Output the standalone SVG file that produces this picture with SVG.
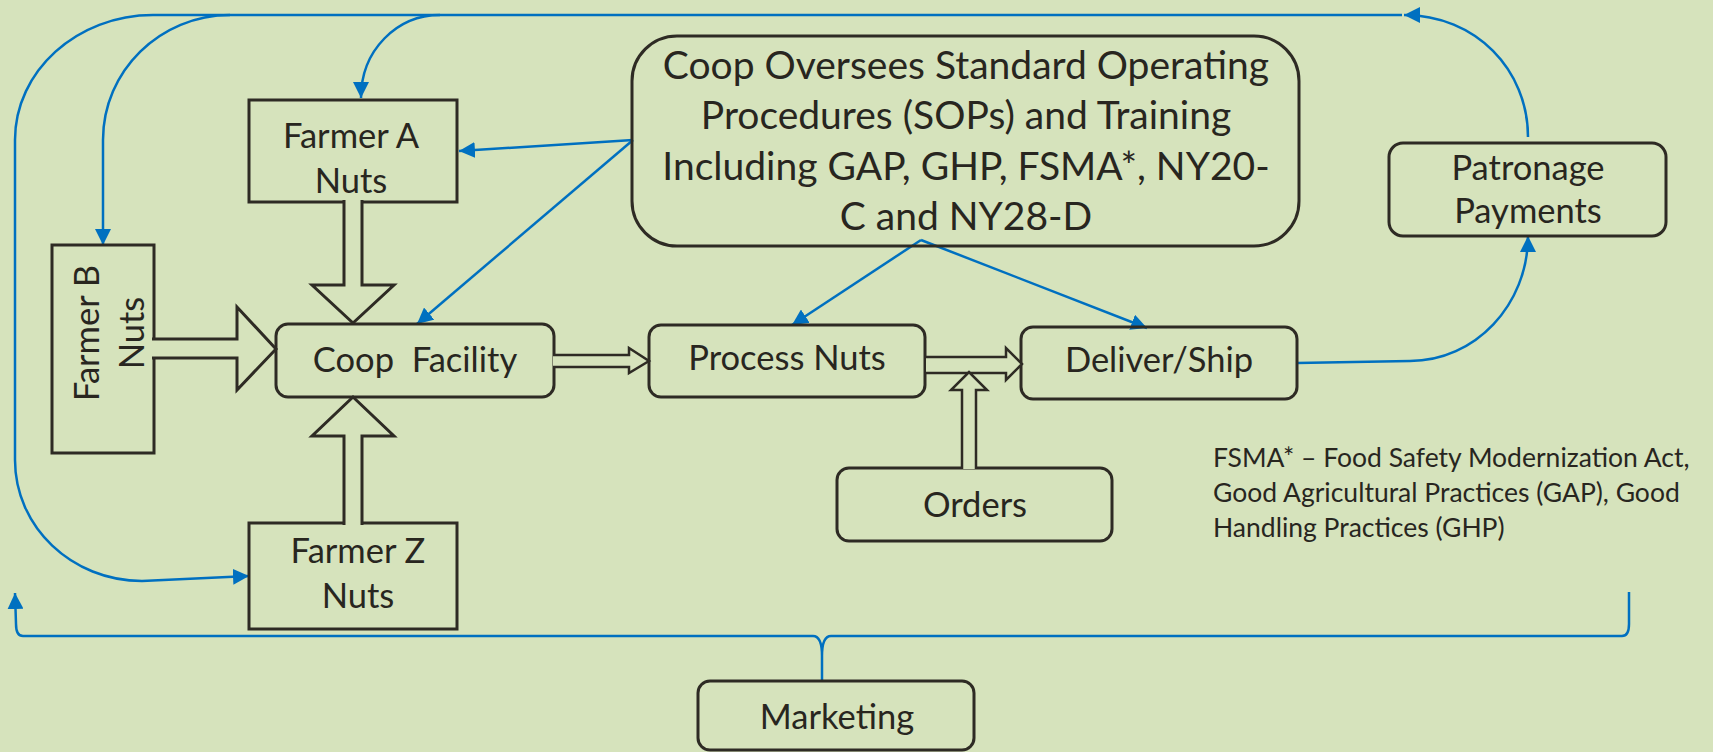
<svg xmlns="http://www.w3.org/2000/svg" width="1713" height="752" viewBox="0 0 1713 752">
<style>
.box{fill:none;stroke:#2e2b24;stroke-width:3}
.blk{fill:#d6e3bc;stroke:#2e2b24;stroke-width:3;stroke-linejoin:miter}
.thin{fill:#d6e3bc;stroke:#2e2b24;stroke-width:2.5;stroke-linejoin:miter}
.lbl{font-family:Lato,"Liberation Sans",sans-serif;font-size:34.5px;fill:#28261f;text-anchor:middle}
.big{font-family:Lato,"Liberation Sans",sans-serif;font-size:39px;fill:#28261f;text-anchor:middle}
.note{font-family:Lato,"Liberation Sans",sans-serif;font-size:26.5px;fill:#28261f}
.con{fill:none;stroke:#0070c0;stroke-width:2.5}
</style>
<defs>
<marker id="ah" markerUnits="userSpaceOnUse" markerWidth="16" markerHeight="16" refX="15" refY="7.5" orient="auto" viewBox="0 0 15 15">
<path d="M0,0 L15,7.5 L0,15 z" fill="#0070c0"/>
</marker>
</defs>
<rect width="1713" height="752" fill="#d6e3bc"/>

<g id="connectors">
<path class="con" d="M1528,137 C1528,70 1476,15 1404,15" marker-end="url(#ah)"/>
<path class="con" d="M1402,15 L153,15 C77,15 15,71 15,140 L15,460 C15,527 72,581 142,581 L249,576" marker-end="url(#ah)"/>
<path class="con" d="M230,15 C160,15 103,71 103,140 L103,245" marker-end="url(#ah)"/>
<path class="con" d="M440,15 C397,15 361,50 361,98" marker-end="url(#ah)"/>
<path class="con" d="M633,140 L459,151" marker-end="url(#ah)"/>
<path class="con" d="M633,140 L417,324" marker-end="url(#ah)"/>
<path class="con" d="M921,240 L792,325" marker-end="url(#ah)"/>
<path class="con" d="M921,240 L1147,328" marker-end="url(#ah)"/>
<path class="con" d="M1297,363 L1410,361 C1475,361 1528,305 1528,236" marker-end="url(#ah)"/>
<path class="con" d="M813,636 L23,636 Q16,636 16,624 L15,593" marker-end="url(#ah)"/>
<path class="con" d="M813,636 Q822,636 822,656 L822,681 M822,656 Q822,636 831,636 L1622,636 Q1629,636 1629,624 L1629,592"/>
</g>

<g id="farmerA">
<rect class="box" x="249" y="100" width="208" height="102"/>
<text class="lbl" x="351" y="148">Farmer A</text>
<text class="lbl" x="351" y="193">Nuts</text>
</g>
<g id="farmerB">
<rect class="box" x="52" y="245" width="102" height="208"/>
<text class="lbl" transform="translate(99,333) rotate(-90)">Farmer B</text>
<text class="lbl" transform="translate(144,333) rotate(-90)">Nuts</text>
</g>
<g id="farmerZ">
<rect class="box" x="249" y="523" width="208" height="106"/>
<text class="lbl" x="358" y="563">Farmer Z</text>
<text class="lbl" x="358" y="608">Nuts</text>
</g>
<g id="coop">
<rect class="box" x="276" y="324" width="278" height="73" rx="12"/>
<text class="lbl" x="415" y="372" xml:space="preserve">Coop  Facility</text>
</g>
<g id="sop">
<rect class="box" x="632" y="36" width="667" height="210" rx="45"/>
<text class="big" x="966" y="79">Coop Oversees Standard Operating</text>
<text class="big" x="966" y="129">Procedures (SOPs) and Training</text>
<text class="big" x="966" y="180">Including GAP, GHP, FSMA*, NY20-</text>
<text class="big" x="966" y="230">C and NY28-D</text>
</g>
<g id="process">
<rect class="box" x="649" y="325" width="276" height="72" rx="12"/>
<text class="lbl" x="787" y="370">Process Nuts</text>
</g>
<g id="deliver">
<rect class="box" x="1021" y="327" width="276" height="72" rx="12"/>
<text class="lbl" x="1159" y="372">Deliver/Ship</text>
</g>
<g id="orders">
<rect class="box" x="837" y="468" width="275" height="73" rx="12"/>
<text class="lbl" x="975" y="517">Orders</text>
</g>
<g id="marketing">
<rect class="box" x="698" y="681" width="276" height="69" rx="12"/>
<text class="lbl" x="837" y="729">Marketing</text>
</g>
<g id="patronage">
<rect class="box" x="1389" y="143" width="277" height="93" rx="14"/>
<text class="lbl" x="1528" y="180">Patronage</text>
<text class="lbl" x="1528" y="223">Payments</text>
</g>

<g id="blockArrows">
<path class="blk" d="M344,200 L344,285 L312,285 L353,323 L394,285 L362,285 L362,200"/>
<path class="blk" d="M344,525 L344,436 L312,436 L353,397 L394,436 L362,436 L362,525"/>
<path class="blk" d="M152,339 L237,339 L237,307 L276,349 L237,390 L237,358 L152,358"/>
<path class="thin" d="M553,355 L629,355 L629,348 L649,361 L629,373 L629,367 L553,367"/>
<path class="thin" d="M926,357 L1006,357 L1006,348 L1022,364 L1006,380 L1006,373 L926,373"/>
<path class="thin" d="M962,469 L962,390 L951,390 L969,372 L987,390 L976,390 L976,469"/>
</g>

<g id="note">
<text class="note" x="1213" y="467">FSMA* – Food Safety Modernization Act,</text>
<text class="note" x="1213" y="502">Good Agricultural Practices (GAP), Good</text>
<text class="note" x="1213" y="537">Handling Practices (GHP)</text>
</g>
</svg>
